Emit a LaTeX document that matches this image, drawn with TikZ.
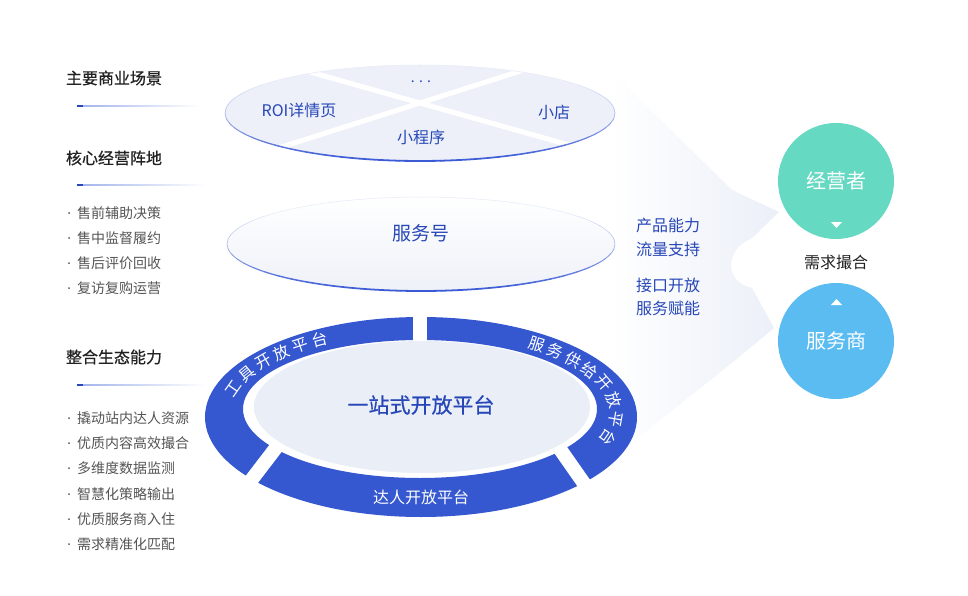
\documentclass[tikz,border=0pt]{standalone}
\usepackage{fontspec}
\newfontfamily\cjk{Noto Sans CJK SC}
\newfontfamily\cjkh[FakeBold=0.6]{Noto Sans CJK SC}
\usetikzlibrary{decorations.markings}
\definecolor{headc}{HTML}{222222}
\definecolor{itemc}{HTML}{555555}
\definecolor{bluec}{HTML}{2747B8}
\definecolor{ringc}{HTML}{3557D0}
\definecolor{mintc}{HTML}{66D9C2}
\definecolor{skyc}{HTML}{5BBCF2}
\definecolor{edgeb}{HTML}{3A5AD6}
\definecolor{edgel}{HTML}{E6EBF8}
\definecolor{topf}{HTML}{EDF0F8}
\definecolor{svcf}{HTML}{EEF1F8}
\definecolor{innerf}{HTML}{EAEEF7}
\definecolor{fanc}{HTML}{EBEFF8}
\definecolor{linec}{HTML}{9FB1EA}
\pgfdeclareradialshading{softfill}{\pgfpoint{0bp}{0bp}}{color(0bp)=(innerf); color(33bp)=(innerf); color(50bp)=(white)}
\newcommand\gradell[4]{%
  \foreach \t in {0,6,...,354}{%
    \pgfmathsetmacro\s{sin(\t+3)}%
    \pgfmathsetmacro\w{max(0,min(100,40+60*\s))}%
    \pgfmathsetmacro\lw{0.5+1.3*max(0,\s)}%
    \draw[line width=\lw pt, line cap=round, color=edgeb!\w!edgel]
      ([shift={(#1,#2)}]\t:#3 and #4) arc[start angle=\t, end angle=\t+6, x radius=#3, y radius=#4];
  }}
\begin{document}
\begin{tikzpicture}[x=1pt,y=-1pt,
  every node/.style={inner sep=0pt, outer sep=0pt},
  head/.style={anchor=west, text=headc, font=\cjkh\fontsize{16}{18}\selectfont},
  item/.style={anchor=west, text=itemc, font=\cjk\fontsize{14}{16}\selectfont},
  bluetxt/.style={text=bluec, font=\cjk\fontsize{16}{18}\selectfont},
  midtxt/.style={anchor=west, text=bluec, font=\cjk\fontsize{16}{18}\selectfont},
  ringtxt/.style={transform shape, text=white, font=\cjk\fontsize{16}{18}\selectfont},
  bigcirc/.style={circle, minimum size=116pt, text=white, font=\cjk\fontsize{20}{22}\selectfont},
  bdot/.style={fill=itemc, circle, minimum size=2pt},
]
\useasboundingbox (0,0) rectangle (968,596);
\fill[white] (0,0) rectangle (968,596);

% pale fan arrows
\shade[left color=white, right color=fanc]
  (610,70) -- (732,190) -- (779,212) -- (752,238)
  .. controls (724,250) and (724,282) .. (752,288)
  -- (774,328) -- (733,362) -- (610,460) -- cycle;

% top ellipse
\fill[topf] (420,113) ellipse [x radius=195, y radius=48];
\begin{scope}
  \clip (420,113) ellipse [x radius=195, y radius=48];
  \draw[white, line width=5] (200,41) -- (640,165);
  \draw[white, line width=5] (200,173) -- (640,33);
\end{scope}
\gradell{420}{113}{195}{48}
\node[bluetxt, anchor=base, font=\cjk\fontsize{14}{16}\selectfont] (dots) at (421,83) {. . .};
\node[bluetxt] (roi) at (299,110) {ROI详情页};
\node[bluetxt] (xd) at (554,112) {小店};
\node[bluetxt] (xcx) at (421,137) {小程序};

% service ellipse
\shade[top color=white, bottom color=svcf] (421,244) ellipse [x radius=194, y radius=47];
\gradell{421}{244}{194}{47}
\node[bluetxt, font=\cjk\fontsize{19}{21}\selectfont] (fwh) at (421,233) {服务号};

% ring
\fill[ringc, even odd rule] (421,417) ellipse [x radius=216, y radius=100]
  (420,409) ellipse [x radius=177, y radius=69];
\draw[white, line width=14] (420,305) -- (420,346);
\draw[white, line width=14] (236,500) -- (285,436);
\draw[white, line width=14] (548,432) -- (597,502);
\shade[shading=softfill] (422,407) ellipse [x radius=168, y radius=66];
\node[text=bluec, font=\cjkh\fontsize{21}{23}\selectfont] (yzs) at (421,405) {一站式开放平台};
\node[text=white, font=\cjk\fontsize{16}{18}\selectfont] (drkf) at (421,497) {达人开放平台};
\coordinate (rc) at (420.5,413);
\path[decorate, decoration={markings,
  mark=at position 19.2pt with {\node[ringtxt] (g1) {工};},
  mark=at position 39.4pt with {\node[ringtxt] (g2) {具};},
  mark=at position 59.7pt with {\node[ringtxt] (g3) {开};},
  mark=at position 79.9pt with {\node[ringtxt] (g4) {放};},
  mark=at position 100.2pt with {\node[ringtxt] (g5) {平};},
  mark=at position 120.4pt with {\node[ringtxt] (g6) {台};}}]
  (rc) ++(185:196 and 85) arc[start angle=185, end angle=250, x radius=196, y radius=85];
\path[decorate, decoration={markings,
  mark=at position 19.3pt with {\node[ringtxt] (f1) {服};},
  mark=at position 38.9pt with {\node[ringtxt] (f2) {务};},
  mark=at position 58.5pt with {\node[ringtxt] (f3) {供};},
  mark=at position 78.1pt with {\node[ringtxt] (f4) {给};},
  mark=at position 97.7pt with {\node[ringtxt] (f5) {开};},
  mark=at position 117.3pt with {\node[ringtxt] (f6) {放};},
  mark=at position 136.9pt with {\node[ringtxt] (f7) {平};},
  mark=at position 156.5pt with {\node[ringtxt] (f8) {台};}}]
  (rc) ++(300:196 and 85) arc[start angle=300, end angle=390, x radius=196, y radius=85];

% left column
\node[head] (h1) at (66,78) {主要商业场景};
\shade[left color=linec, right color=white] (77,105.6) rectangle (200,106.6);
\fill[bluec] (77,105) rectangle (83,107.3);
\node[head] (h2) at (66,158) {核心经营阵地};
\shade[left color=linec, right color=white] (77,184.6) rectangle (205,185.6);
\fill[bluec] (77,184) rectangle (83,186.3);
\foreach \y/\t [count=\i] in {213/售前辅助决策, 238/售中监督履约, 263/售后评价回收, 288/复访复购运营}{
  \node[bdot] (d1\i) at (69,\y) {};
  \node[item] (a\i) at (77,\y) {\t};
}
\node[head] (h3) at (66,357) {整合生态能力};
\shade[left color=linec, right color=white] (77,384.6) rectangle (205,385.6);
\fill[bluec] (77,384) rectangle (83,386.3);
\foreach \y/\t [count=\i] in {418/撬动站内达人资源, 443/优质内容高效撮合, 468/多维度数据监测, 494/智慧化策略输出, 519/优质服务商入住, 544/需求精准化匹配}{
  \node[bdot] (d2\i) at (69,\y) {};
  \node[item] (b\i) at (77,\y) {\t};
}

% middle texts
\node[midtxt] (m1) at (636,225) {产品能力};
\node[midtxt] (m2) at (636,249) {流量支持};
\node[midtxt] (m3) at (636,285) {接口开放};
\node[midtxt] (m4) at (636,308) {服务赋能};

% right circles
\node[bigcirc, fill=mintc] (jyz) at (836,181) {经营者};
\node[bigcirc, fill=skyc] (fws) at (836,341) {服务商};
\node[text=headc, font=\cjk\fontsize{16}{18}\selectfont] (xq) at (836,262) {需求撮合};
\fill[white] (831,222) -- (842,222) -- (836.5,228) -- cycle;
\fill[white] (831,305) -- (842,305) -- (836.5,299) -- cycle;
\end{tikzpicture}
\end{document}
